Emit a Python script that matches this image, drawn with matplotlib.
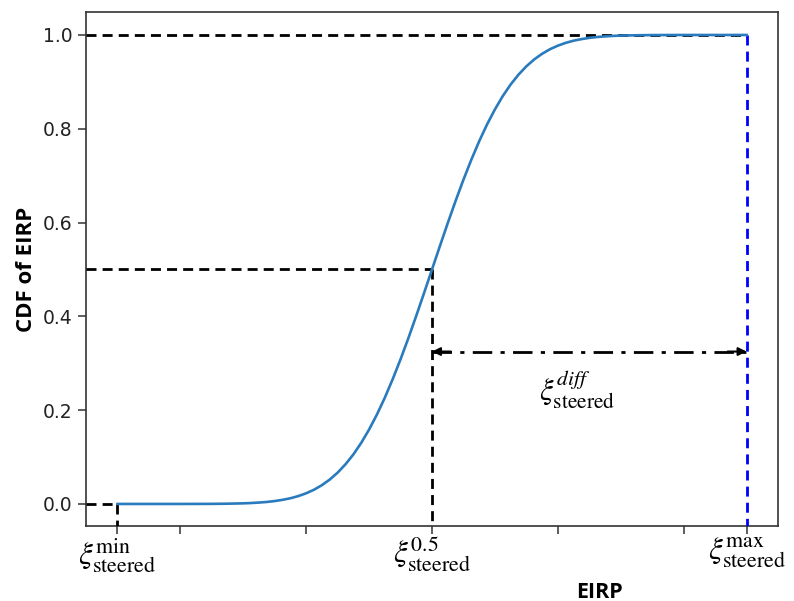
import matplotlib
matplotlib.use("Agg")
import matplotlib.pyplot as plt

# ---- data ----
eirp = [-5.0, -4.75, -4.5, -4.25, -4.0, -3.75, -3.5, -3.25,
        -3.0, -2.875, -2.75, -2.625, -2.5, -2.375, -2.25, -2.125,
        -2.0, -1.875, -1.75, -1.625, -1.5, -1.375, -1.25, -1.125,
        -1.0, -0.875, -0.75, -0.625, -0.5, -0.375, -0.25, -0.125, 0.0,
        0.125, 0.25, 0.375, 0.5, 0.625, 0.75, 0.875, 1.0,
        1.125, 1.25, 1.375, 1.5, 1.625, 1.75, 1.875, 2.0,
        2.125, 2.25, 2.375, 2.5, 2.625, 2.75, 2.875, 3.0,
        3.25, 3.5, 3.75, 4.0, 4.25, 4.5, 4.75, 5.0]
cdf = [0.0000, 0.0000, 0.0000, 0.0000, 0.0000, 0.0001, 0.0002, 0.0006,
       0.0013, 0.0020, 0.0030, 0.0043, 0.0062, 0.0088, 0.0122, 0.0168,
       0.0228, 0.0304, 0.0401, 0.0521, 0.0668, 0.0846, 0.1056, 0.1303,
       0.1587, 0.1908, 0.2266, 0.2660, 0.3085, 0.3538, 0.4013, 0.4503, 0.5000,
       0.5497, 0.5987, 0.6462, 0.6915, 0.7340, 0.7734, 0.8092, 0.8413,
       0.8697, 0.8944, 0.9154, 0.9332, 0.9479, 0.9599, 0.9696, 0.9772,
       0.9832, 0.9878, 0.9912, 0.9938, 0.9957, 0.9970, 0.9980, 0.9987,
       0.9994, 0.9998, 0.9999, 1.0000, 1.0000, 1.0000, 1.0000, 1.0000]

x_min, x_med, x_max = -5.0, 0.0, 5.0
y_min, y_med, y_max = 0.0, 0.5, 1.0
arrow_y = 0.325
x_ticks = [-5, -4, -2, 0, 2, 4, 5]
y_ticks = [0.0, 0.2, 0.4, 0.6, 0.8, 1.0]
special_labels = [r'$\xi^{\mathrm{min}}_{\mathrm{steered}}$',
                  r'$\xi^{0.5}_{\mathrm{steered}}$',
                  r'$\xi^{\mathrm{max}}_{\mathrm{steered}}$']
diff_label = r'$\xi^{diff}_{\mathrm{steered}}$'

fig = plt.figure(figsize=(7.94, 6.01), dpi=100)
ax = fig.add_axes([86/794, 1-526/601, (778-86)/794, (526-12)/601])
xl = (-5.5, 5.5)
yl = (-0.047, 1.049)
ax.set_xlim(*xl)
ax.set_ylim(*yl)

dash = (0, (3.6, 2.2))
lwd = 2.0
# reference dashed lines
ax.plot([xl[0], x_max], [y_max, y_max], color='black', lw=lwd, ls=dash, zorder=3)
ax.plot([xl[0], x_med], [y_med, y_med], color='black', lw=lwd, ls=dash, zorder=3)
ax.plot([x_med, x_med], [y_med, yl[0]], color='black', lw=lwd, ls=dash, zorder=3)
ax.plot([xl[0], x_min], [y_min, y_min], color='black', lw=lwd, ls=dash, zorder=3)
ax.plot([x_min, x_min], [y_min, yl[0]], color='black', lw=lwd, ls=dash, zorder=3)
ax.plot([x_max, x_max], [y_max, yl[0]], color='blue', lw=lwd, ls=dash, zorder=3)

# CDF curve
ax.plot(eirp, cdf, color='#2a7bbd', lw=1.9, zorder=4, solid_joinstyle='round')

# dash-dot double arrow
ax.plot([x_med, x_max], [arrow_y, arrow_y], color='black', lw=2, ls=(0, (7, 3, 1.5, 3)), zorder=3)
for xa, xb in [(x_med, x_med + 0.3), (x_max, x_max - 0.3)]:
    ax.annotate('', xy=(xa, arrow_y), xytext=(xb, arrow_y),
                arrowprops=dict(arrowstyle='-|>', color='black', lw=1.5,
                                mutation_scale=12, shrinkA=0, shrinkB=0))
ax.text(2.3, arrow_y - 0.033, diff_label, ha='center', va='top', fontsize=22,
        math_fontfamily='stix')

# ticks
ax.set_xticks(x_ticks)
ax.set_xticklabels([''] * len(x_ticks))
ax.set_yticks(y_ticks)
ax.set_yticklabels([f'{v:.1f}' for v in y_ticks], fontsize=13.5, color='#222222')
ax.tick_params(axis='both', length=6, width=1.1, color='#333333')
for s in ax.spines.values():
    s.set_linewidth(1.2)
    s.set_color('#333333')

for xv, lab in zip([x_min, x_med, x_max], special_labels):
    ax.text(xv, -0.068, lab, ha='center', va='top', fontsize=22.5,
            math_fontfamily='stix')

ax.set_ylabel('CDF of EIRP', fontsize=16, fontweight='bold', family='Open Sans', labelpad=4)
fig.text(600/794, 1-592/601, 'EIRP', ha='center', va='center', fontsize=15.5,
         fontweight='bold', family='Open Sans')

fig.savefig('out.png', dpi=100)
